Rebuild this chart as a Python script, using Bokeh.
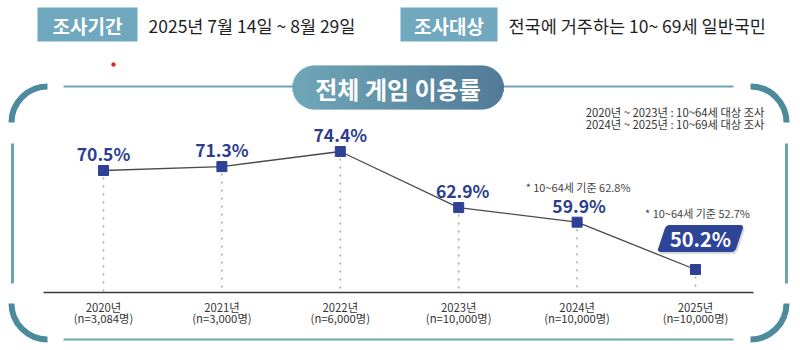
import math
from bokeh.plotting import figure
from bokeh.models import Range1d
from bokeh.core.properties import value
from bokeh.embed import file_html
from bokeh.resources import INLINE

# ---------------- data ----------------
years = [2020, 2021, 2022, 2023, 2024, 2025]
rates = [70.5, 71.3, 74.4, 62.9, 59.9, 50.2]
rate_labels = ["70.5%", "71.3%", "74.4%", "62.9%", "59.9%", "50.2%"]
year_labels = ["2020년", "2021년", "2022년", "2023년", "2024년", "2025년"]
sample_labels = ["(n=3,084명)", "(n=3,000명)", "(n=6,000명)",
                 "(n=10,000명)", "(n=10,000명)", "(n=10,000명)"]
note_years = [2024, 2025]
note_rates = [59.9, 50.2]
note_labels = ["* 10~64세 기준 62.8%", "* 10~64세 기준 52.7%"]
title_text = "전체 게임 이용률"
period_tag = "조사기간"
period_text = "2025년 7월 14일 ~ 8월 29일"
target_tag = "조사대상"
target_text = "전국에 거주하는 10~ 69세 일반국민"
method_notes = ["2020년 ~ 2023년 : 10~64세 대상 조사",
                "2024년 ~ 2025년 : 10~69세 대상 조사"]

# ---------------- layout ----------------
W, H = 800, 350
PX_PER_YEAR = 118.4
PX_PER_PCT = 4.876
x_start = years[0] - 103 / PX_PER_YEAR
x_end = x_start + W / PX_PER_YEAR
y_top = 74.4 + 151 / PX_PER_PCT
y_bot = y_top - H / PX_PER_PCT

def X(px):
    return x_start + px / PX_PER_YEAR

def Y(py):
    return y_top - py / PX_PER_PCT

def PX(x):
    return (x - x_start) * PX_PER_YEAR

def PY(v):
    return (y_top - v) * PX_PER_PCT

FONT = value("Noto Sans CJK KR")
NAVY = "#2f4196"
TEAL_ARC = "#4e8a9e"
TEAL_LINE = "#6ea3b5"

p = figure(width=W, height=H, x_range=Range1d(x_start, x_end),
           y_range=Range1d(y_bot, y_top), output_backend="svg",
           toolbar_location=None, min_border=0,
           x_axis_location=None, y_axis_location=None)
p.grid.visible = False
p.outline_line_color = None
p.background_fill_color = "white"
p.border_fill_color = "white"

# ---------------- header ----------------
p.quad(left=[X(37), X(400)], right=[X(137), X(497)],
       top=[Y(7), Y(7)], bottom=[Y(41), Y(41)],
       fill_color="#70a8bf", line_color=None)
p.text(x=[X(87), X(448.5)], y=[Y(24.5), Y(24.5)], text=[period_tag, target_tag],
       text_font=FONT, text_font_style="bold", text_font_size="19px",
       text_color="white", text_align="center", text_baseline="middle")
p.text(x=[X(148), X(508)], y=[Y(24.5), Y(24.5)], text=[period_text, target_text],
       text_font=FONT, text_font_size="17.5px", text_color="#1e1e1e",
       text_align="left", text_baseline="middle")
p.scatter(x=[X(113)], y=[Y(64)], size=3.5, color="#e0201e")

# ---------------- frame ----------------
R = 36
arc_centers = [(47, 122), (750, 122), (47, 303), (750, 303)]
arc_ranges = [(math.pi / 2, math.pi), (0, math.pi / 2),
              (math.pi, 1.5 * math.pi), (-math.pi / 2, 0)]
for (cx, cy), (a0, a1) in zip(arc_centers, arc_ranges):
    p.arc(x=X(cx), y=Y(cy), radius=R, radius_units="screen",
          start_angle=a0, end_angle=a1, line_color=TEAL_ARC, line_width=6)
# horizontal lines
p.segment(x0=[X(63), X(500), X(63)], y0=[Y(86), Y(86), Y(339)],
          x1=[X(295), X(733), X(733)], y1=[Y(86), Y(86), Y(339)],
          line_color=TEAL_LINE, line_width=2.2)
# vertical lines
p.segment(x0=[X(12), X(786)], y0=[Y(143), Y(143)],
          x1=[X(12), X(786)], y1=[Y(283), Y(283)],
          line_color=TEAL_LINE, line_width=3)

# title pill with horizontal gradient
pl, pr, pt, pb = 292, 503, 65, 109
rad = (pb - pt) / 2
c0 = (0x5f, 0x9d, 0xb0)
c1 = (0x3f, 0x6c, 0x8c)
lefts, rights, tops, bottoms, cols = [], [], [], [], []
xx = pl
while xx < pr:
    xm = xx + 0.5
    if xm < pl + rad:
        d = pl + rad - xm
    elif xm > pr - rad:
        d = xm - (pr - rad)
    else:
        d = 0
    hh = math.sqrt(max(rad * rad - d * d, 0))
    t = (xm - pl) / (pr - pl)
    col = "#%02x%02x%02x" % tuple(int(round(a + (b - a) * t)) for a, b in zip(c0, c1))
    lefts.append(X(xx)); rights.append(X(xx + 1.3))
    tops.append(Y(pt + rad - hh)); bottoms.append(Y(pt + rad + hh))
    cols.append(col)
    xx += 1
p.quad(left=lefts, right=rights, top=tops, bottom=bottoms,
       fill_color=cols, line_color=None)
p.text(x=[X((pl + pr) / 2)], y=[Y(87.5)], text=[title_text], text_font=FONT,
       text_font_style="bold", text_font_size="24px", text_color="white",
       text_align="center", text_baseline="middle")

# method notes (top right)
p.text(x=[X(764), X(764)], y=[Y(111), Y(123)], text=method_notes, text_font=FONT,
       text_font_size="11.3px", text_color="#333333", text_align="right",
       text_baseline="middle")

# ---------------- chart ----------------
base_v = Y(292)
p.segment(x0=[X(43)], y0=[base_v], x1=[X(753)], y1=[base_v],
          line_color="#3a3a3a", line_width=1.5)
p.segment(x0=years, y0=[r - 7 / PX_PER_PCT for r in rates],
          x1=years, y1=[base_v] * len(years),
          line_color="#a8a8a8", line_width=1.6, line_dash="2 6")
p.line(years, rates, line_color="#4a4a4a", line_width=1.3)
p.scatter(years, rates, marker="square", size=10,
          fill_color=NAVY, line_color=NAVY)

p.text(x=years[:5], y=rates[:5], text=rate_labels[:5],
       x_offset=[0, 0, 0, 4, 2], y_offset=-17,
       text_font=FONT, text_font_style="bold", text_font_size="17.5px",
       text_color="#2e3e8e", text_align="center", text_baseline="middle")

# highlighted 2025 box (rounded parallelogram)
bx = PX(years[-1]) + 5
by = PY(rates[-1]) - 31
hw, hh2, sk, rr = 39, 13.5, 4.5, 4
verts = [(bx - hw + sk, by - hh2), (bx + hw + sk, by - hh2),
         (bx + hw - sk, by + hh2), (bx - hw - sk, by + hh2)]

def rounded(vs, r, n=6):
    out = []
    m = len(vs)
    for i in range(m):
        pv = vs[i - 1]; cv = vs[i]; nv = vs[(i + 1) % m]
        d1 = math.hypot(pv[0] - cv[0], pv[1] - cv[1])
        d2 = math.hypot(nv[0] - cv[0], nv[1] - cv[1])
        a = (cv[0] + (pv[0] - cv[0]) * r / d1, cv[1] + (pv[1] - cv[1]) * r / d1)
        b = (cv[0] + (nv[0] - cv[0]) * r / d2, cv[1] + (nv[1] - cv[1]) * r / d2)
        for k in range(n + 1):
            t = k / n
            x = (1 - t) ** 2 * a[0] + 2 * (1 - t) * t * cv[0] + t * t * b[0]
            y = (1 - t) ** 2 * a[1] + 2 * (1 - t) * t * cv[1] + t * t * b[1]
            out.append((x, y))
    return out

shape = rounded(verts, rr)
p.patch(x=[X(v[0] + 1.5) for v in shape], y=[Y(v[1] + 2) for v in shape],
        fill_color="black", fill_alpha=0.15, line_color=None)
p.patch(x=[X(v[0]) for v in shape], y=[Y(v[1]) for v in shape],
        fill_color="#2e4597", line_color=None)
p.text(x=[years[-1]], y=[rates[-1]], text=[rate_labels[-1]],
       x_offset=5, y_offset=-31, text_font=FONT, text_font_style="bold",
       text_font_size="20px", text_color="white", text_align="center",
       text_baseline="middle")

# age-basis notes
p.text(x=note_years, y=note_rates, text=note_labels, x_offset=[1, 2],
       y_offset=[-35, -56], text_font=FONT, text_font_size="11px",
       text_color="#444444", text_align="center", text_baseline="middle")

# x category labels
p.text(x=years, y=[Y(306)] * len(years), text=year_labels, text_font=FONT,
       text_font_size="11.3px", text_color="#333333", text_align="center",
       text_baseline="middle")
p.text(x=years, y=[Y(317.5)] * len(years), text=sample_labels, text_font=FONT,
       text_font_size="11.3px", text_color="#333333", text_align="center",
       text_baseline="middle")

open("out.html", "w").write(file_html(p, INLINE))
